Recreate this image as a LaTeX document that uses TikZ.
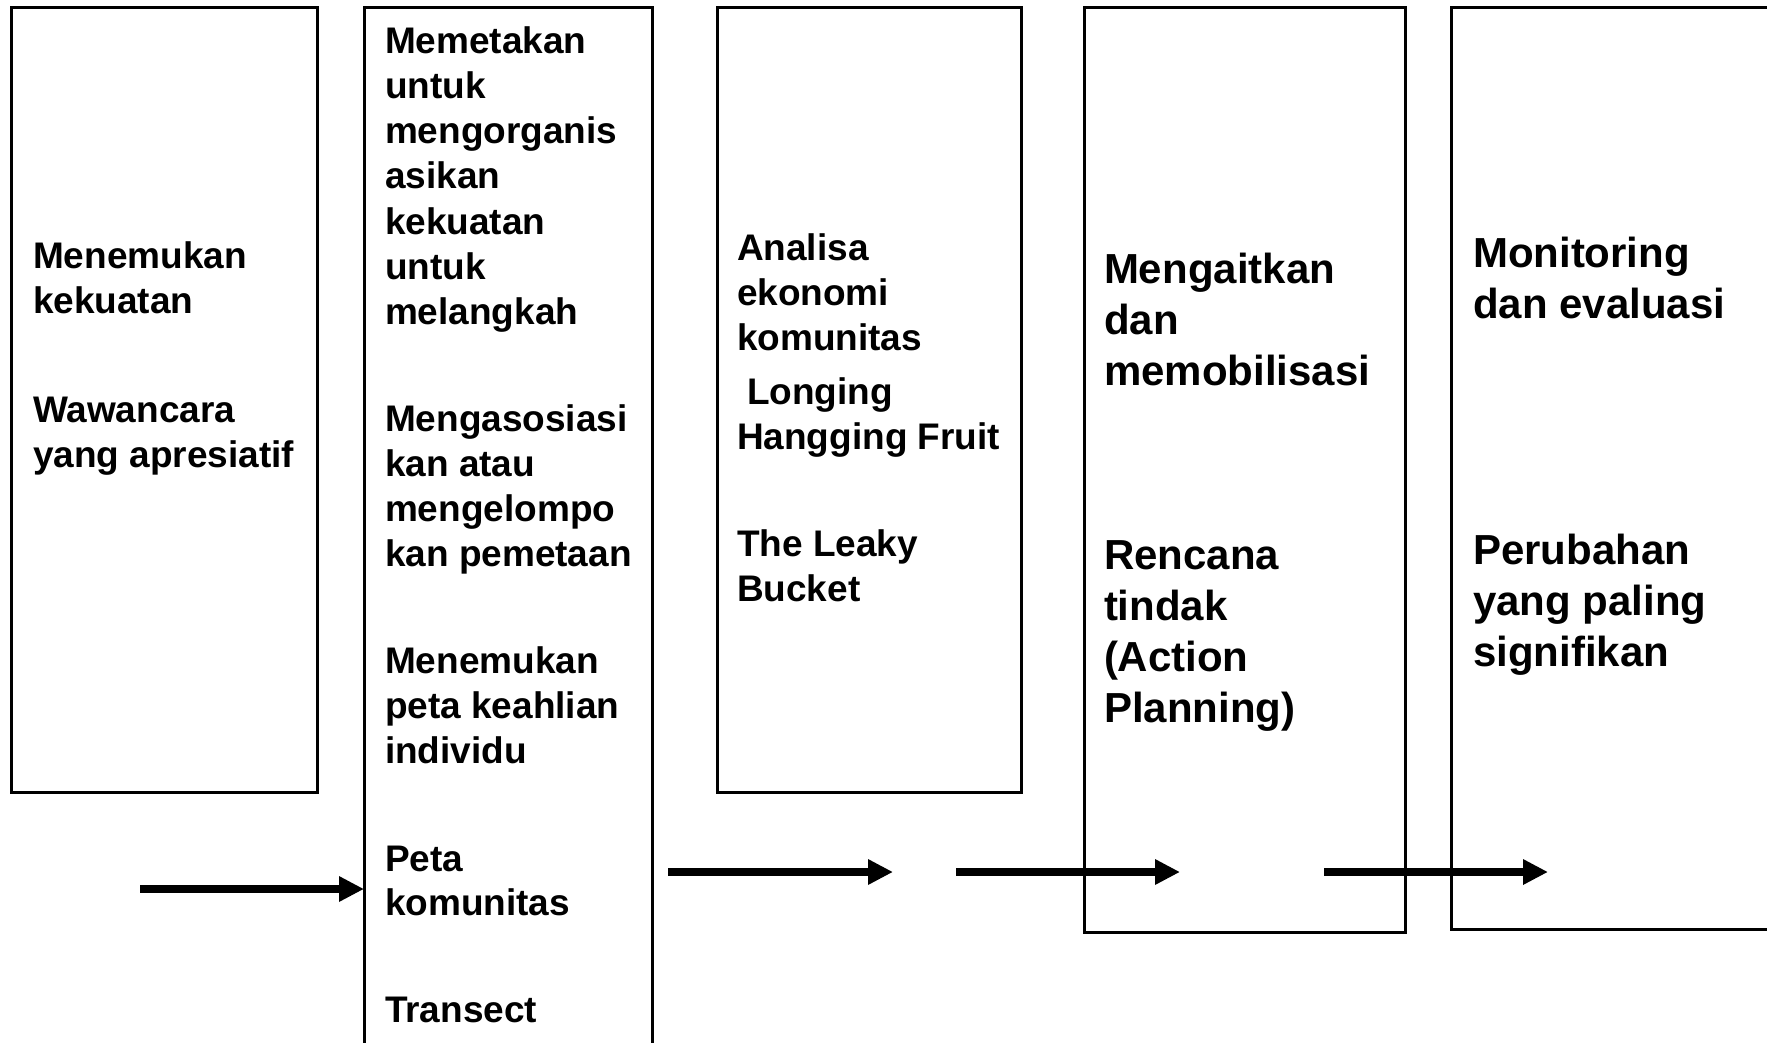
\documentclass[tikz,border=0pt]{standalone}
\usepackage{fontspec}
\setmainfont{Liberation Sans}
\usetikzlibrary{arrows.meta}
\tikzset{
  boxst/.style={draw=black, line width=3pt, inner sep=0pt, outer sep=0pt, anchor=north west},
  txts/.style={anchor=base west, inner sep=0pt, outer sep=0pt, font=\fontsize{37pt}{45pt}\selectfont\bfseries},
  txtl/.style={anchor=base west, inner sep=0pt, outer sep=0pt, font=\fontsize{42pt}{51pt}\selectfont\bfseries},
  flow/.style={line width=8pt, -{Triangle[length=25pt,width=24pt]}}
}
\begin{document}
\begin{tikzpicture}[x=1pt,y=-1pt]
\clip (0,0) rectangle (1767,1043);
\fill[white] (0,0) rectangle (1767,1043);
% boxes
\node[boxst, minimum width=306pt, minimum height=784pt] (b1) at (11,8) {};
\node[boxst, minimum width=288pt, minimum height=1100pt] (b2) at (364,8) {};
\node[boxst, minimum width=304pt, minimum height=784pt] (b3) at (717,8) {};
\node[boxst, minimum width=321pt, minimum height=924pt] (b4) at (1084,8) {};
\node[boxst, minimum width=400pt, minimum height=921pt] (b5) at (1451,8) {};
% box 1 text
\node[txts] (t11) at (33,268) {Menemukan};
\node[txts] (t12) at (33,313) {kekuatan};
\node[txts] (t13) at (33,422) {Wawancara};
\node[txts] (t14) at (33,467) {yang apresiatif};
% box 2 text
\node[txts] (t21) at (385,54) {Memetakan};
\node[txts] (t22) at (385,99) {untuk};
\node[txts] (t23) at (385,144) {mengorganis};
\node[txts] (t24) at (385,189) {asikan};
\node[txts] (t25) at (385,234) {kekuatan};
\node[txts] (t26) at (385,279) {untuk};
\node[txts] (t27) at (385,324) {melangkah};
\node[txts] (t28) at (385,431) {Mengasosiasi};
\node[txts] (t29) at (385,476) {kan atau};
\node[txts] (t210) at (385,521) {mengelompo};
\node[txts] (t211) at (385,566) {kan pemetaan};
\node[txts] (t212) at (385,673) {Menemukan};
\node[txts] (t213) at (385,718) {peta keahlian};
\node[txts] (t214) at (385,763) {individu};
\node[txts] (t215) at (385,871) {Peta};
\node[txts] (t216) at (385,915) {komunitas};
\node[txts] (t217) at (385,1022) {Transect};
% box 3 text
\node[txts] (t31) at (737,260) {Analisa};
\node[txts] (t32) at (737,305) {ekonomi};
\node[txts] (t33) at (737,350) {komunitas};
\node[txts] (t34) at (747,404) {Longing};
\node[txts] (t35) at (737,449) {Hangging Fruit};
\node[txts] (t36) at (737,556) {The Leaky};
\node[txts] (t37) at (737,601) {Bucket};
% box 4 text
\node[txtl] (t41) at (1104,283) {Mengaitkan};
\node[txtl] (t42) at (1104,334) {dan};
\node[txtl] (t43) at (1104,385) {memobilisasi};
\node[txtl] (t44) at (1104,569) {Rencana};
\node[txtl] (t45) at (1104,620) {tindak};
\node[txtl] (t46) at (1104,671) {(Action};
\node[txtl] (t47) at (1104,722) {Planning)};
% box 5 text
\node[txtl] (t51) at (1473,267) {Monitoring};
\node[txtl] (t52) at (1473,318) {dan evaluasi};
\node[txtl] (t53) at (1473,564) {Perubahan};
\node[txtl] (t54) at (1473,615) {yang paling};
\node[txtl] (t55) at (1473,666) {signifikan};
% arrows
\coordinate (a1s) at (140,889);
\coordinate (a2s) at (668,872);
\coordinate (a2e) at (893,872);
\coordinate (a3s) at (956,872);
\coordinate (a3e) at (1180,872);
\coordinate (a4s) at (1324,872);
\coordinate (a4e) at (1548,872);
\draw[flow] (a1s) -- (a1s -| b2.west);
\draw[flow] (a2s) -- (a2e);
\draw[flow] (a3s) -- (a3e);
\draw[flow] (a4s) -- (a4e);
\end{tikzpicture}
\end{document}
